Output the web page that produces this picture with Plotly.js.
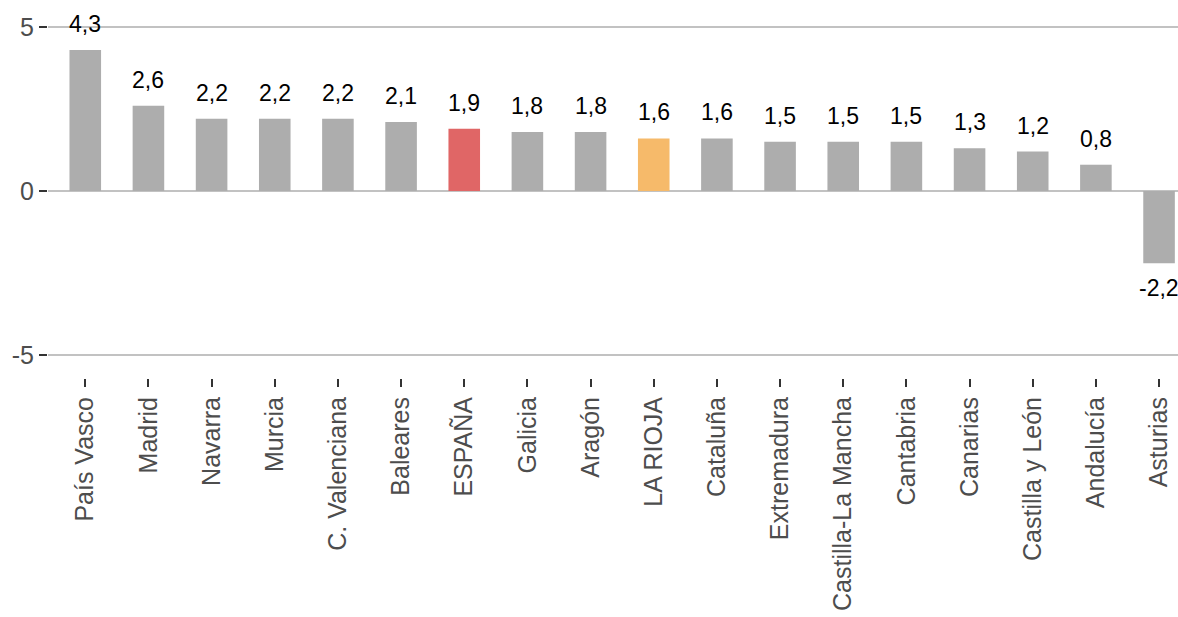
<!DOCTYPE html>
<html>
<head>
<meta charset="utf-8">
<script src="https://cdn.plot.ly/plotly-3.0.1.min.js"></script>
<style>html,body{margin:0;padding:0;background:#fff;}#chart{width:1178px;height:617px;}</style>
</head>
<body>
<div id="chart"></div>
<script>
const categories = ["País Vasco","Madrid","Navarra","Murcia","C. Valenciana","Baleares","ESPAÑA","Galicia","Aragón","LA RIOJA","Cataluña","Extremadura","Castilla-La Mancha","Cantabria","Canarias","Castilla y León","Andalucía","Asturias"];
const values = [4.3,2.6,2.2,2.2,2.2,2.1,1.9,1.8,1.8,1.6,1.6,1.5,1.5,1.5,1.3,1.2,0.8,-2.2];
const yTicks = [-5,0,5];
const yTickLabels = ["-5","0","5"];

const GREY = "#adadad", RED = "#e06666", ORANGE = "#f6ba6a";
const colors = categories.map(c => c === "ESPAÑA" ? RED : (c === "LA RIOJA" ? ORANGE : GREY));

const fmt = v => v.toFixed(1).replace(".", ",");

const trace = {
  type: "bar",
  x: categories,
  y: values,
  width: 0.5,
  marker: {color: colors, line: {width: 0}},
  hoverinfo: "x+y"
};

const annotations = categories.map((c, i) => ({
  x: c, y: values[i], xref: "x", yref: "y",
  text: fmt(values[i]), showarrow: false,
  yanchor: "middle", xanchor: "center",
  yshift: values[i] >= 0 ? 26 : -25,
  font: {family: "Liberation Sans, Arial, sans-serif", size: 23, color: "#000"}
}));

const shapes = categories.map(c => ({
  type: "line", layer: "between", xref: "x", yref: "paper",
  x0: c, x1: c, y0: 0, y1: 1,
  line: {color: "#ffffff", width: 2}
}));

const layout = {
  width: 1178, height: 617,
  margin: {l: 48, r: 0, t: 0, b: 239},
  paper_bgcolor: "#fff", plot_bgcolor: "#fff",
  showlegend: false,
  font: {family: "Liberation Sans, Arial, sans-serif", color: "#4d4d4d"},
  xaxis: {
    type: "category",
    range: [-0.59, 17.3],
    showgrid: false, zeroline: false, showline: false,
    ticks: "outside", ticklen: 8, tickwidth: 2, tickcolor: "#333",
    tickangle: -90,
    tickfont: {size: 25, color: "#4d4d4d"}
  },
  yaxis: {
    range: [-5.7, 5.82],
    tickvals: yTicks, ticktext: yTickLabels,
    showgrid: true, gridcolor: "#c2c2c2", gridwidth: 2.5,
    zeroline: false, showline: false,
    ticks: "outside", ticklen: 8, tickwidth: 2, tickcolor: "#333",
    tickfont: {size: 25, color: "#4d4d4d"}
  },
  annotations: annotations,
  shapes: shapes
};

Plotly.newPlot("chart", [trace], layout, {displayModeBar: false, staticPlot: true});
</script>
</body>
</html>
